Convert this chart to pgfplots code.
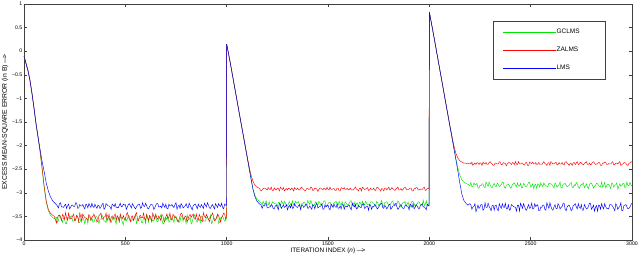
\documentclass[border=0pt]{standalone}
\usepackage{fontspec}
\setmainfont{Liberation Sans}
\usepackage{pgfplots}
\usepackage{pgfplotstable}
\pgfplotsset{compat=1.18}
\pgfplotstableread{
n g z l
0 -0.10 -0.10 -0.10
10 -0.26 -0.26 -0.26
20 -0.42 -0.41 -0.42
30 -0.64 -0.63 -0.63
40 -0.92 -0.91 -0.91
50 -1.24 -1.23 -1.22
60 -1.57 -1.56 -1.55
70 -1.85 -1.84 -1.83
80 -2.16 -2.14 -2.10
90 -2.52 -2.50 -2.35
100 -2.90 -2.88 -2.56
110 -3.20 -3.18 -2.80
120 -3.38 -3.35 -2.96
130 -3.47 -3.43 -3.08
140 -3.52 -3.47 -3.16
150 -3.55 -3.50 -3.21
160 -3.52 -3.64 -3.25
165 -3.62 -3.53 -3.28
170 -3.59 -3.48 -3.32
175 -3.47 -3.48 -3.23
180 -3.49 -3.52 -3.21
185 -3.57 -3.59 -3.30
190 -3.62 -3.46 -3.30
195 -3.53 -3.49 -3.31
200 -3.55 -3.56 -3.27
205 -3.66 -3.42 -3.24
210 -3.65 -3.53 -3.33
215 -3.52 -3.58 -3.27
220 -3.53 -3.43 -3.24
225 -3.56 -3.52 -3.34
230 -3.50 -3.55 -3.31
235 -3.49 -3.55 -3.26
240 -3.60 -3.49 -3.26
245 -3.60 -3.45 -3.29
250 -3.56 -3.59 -3.29
255 -3.59 -3.56 -3.21
260 -3.47 -3.48 -3.22
265 -3.50 -3.51 -3.33
270 -3.63 -3.61 -3.32
275 -3.63 -3.43 -3.25
280 -3.57 -3.51 -3.28
285 -3.46 -3.61 -3.28
290 -3.52 -3.45 -3.25
295 -3.57 -3.49 -3.30
300 -3.66 -3.53 -3.34
305 -3.55 -3.53 -3.24
310 -3.53 -3.56 -3.26
315 -3.65 -3.58 -3.32
320 -3.49 -3.46 -3.23
325 -3.52 -3.48 -3.27
330 -3.59 -3.58 -3.31
335 -3.53 -3.52 -3.22
340 -3.62 -3.49 -3.29
345 -3.62 -3.45 -3.31
350 -3.55 -3.52 -3.24
355 -3.49 -3.55 -3.29
360 -3.50 -3.62 -3.33
365 -3.59 -3.59 -3.26
370 -3.65 -3.48 -3.27
375 -3.56 -3.46 -3.33
380 -3.56 -3.43 -3.30
385 -3.47 -3.56 -3.25
390 -3.52 -3.55 -3.22
395 -3.60 -3.51 -3.35
400 -3.60 -3.51 -3.32
405 -3.63 -3.43 -3.23
410 -3.46 -3.59 -3.25
415 -3.50 -3.53 -3.28
420 -3.57 -3.46 -3.28
425 -3.55 -3.62 -3.30
430 -3.63 -3.53 -3.35
435 -3.57 -3.49 -3.24
440 -3.53 -3.56 -3.26
445 -3.52 -3.48 -3.29
450 -3.59 -3.45 -3.23
455 -3.66 -3.58 -3.31
460 -3.49 -3.49 -3.31
465 -3.53 -3.52 -3.32
470 -3.62 -3.61 -3.27
475 -3.49 -3.45 -3.22
480 -3.55 -3.52 -3.30
485 -3.62 -3.55 -3.29
490 -3.68 -3.48 -3.24
495 -3.56 -3.56 -3.26
500 -3.52 -3.58 -3.25
505 -3.59 -3.46 -3.35
510 -3.56 -3.42 -3.30
515 -3.47 -3.51 -3.25
520 -3.50 -3.55 -3.23
525 -3.60 -3.61 -3.28
530 -3.60 -3.51 -3.32
535 -3.55 -3.49 -3.23
540 -3.57 -3.59 -3.27
545 -3.50 -3.53 -3.31
550 -3.47 -3.46 -3.34
555 -3.65 -3.42 -3.30
560 -3.59 -3.56 -3.26
565 -3.57 -3.59 -3.24
570 -3.53 -3.49 -3.24
575 -3.52 -3.48 -3.33
580 -3.63 -3.53 -3.31
585 -3.63 -3.52 -3.21
590 -3.52 -3.43 -3.28
595 -3.53 -3.55 -3.29
600 -3.65 -3.58 -3.22
605 -3.46 -3.46 -3.27
610 -3.55 -3.52 -3.33
615 -3.62 -3.58 -3.34
620 -3.49 -3.48 -3.29
625 -3.56 -3.51 -3.25
630 -3.57 -3.61 -3.25
635 -3.59 -3.43 -3.26
640 -3.60 -3.49 -3.35
645 -3.49 -3.56 -3.32
650 -3.50 -3.45 -3.26
655 -3.60 -3.53 -3.23
660 -3.62 -3.56 -3.23
665 -3.55 -3.49 -3.30
670 -3.53 -3.53 -3.30
675 -3.47 -3.59 -3.28
680 -3.56 -3.46 -3.32
685 -3.65 -3.48 -3.22
690 -3.66 -3.59 -3.27
695 -3.53 -3.62 -3.31
700 -3.52 -3.51 -3.24
705 -3.57 -3.45 -3.33
710 -3.47 -3.55 -3.34
715 -3.62 -3.52 -3.24
720 -3.59 -3.43 -3.28
725 -3.52 -3.55 -3.27
730 -3.55 -3.58 -3.25
735 -3.56 -3.46 -3.29
740 -3.63 -3.48 -3.31
745 -3.49 -3.53 -3.25
750 -3.50 -3.52 -3.21
755 -3.59 -3.56 -3.35
760 -3.57 -3.62 -3.29
765 -3.63 -3.58 -3.26
770 -3.60 -3.49 -3.33
775 -3.50 -3.43 -3.23
780 -3.49 -3.45 -3.26
785 -3.60 -3.53 -3.32
790 -3.53 -3.56 -3.30
795 -3.55 -3.49 -3.28
800 -3.65 -3.51 -3.23
805 -3.47 -3.62 -3.30
810 -3.56 -3.55 -3.32
815 -3.57 -3.48 -3.22
820 -3.52 -3.46 -3.27
825 -3.66 -3.52 -3.31
830 -3.62 -3.48 -3.36
835 -3.53 -3.45 -3.27
840 -3.46 -3.55 -3.25
845 -3.52 -3.56 -3.24
850 -3.59 -3.45 -3.28
855 -3.62 -3.55 -3.34
860 -3.55 -3.58 -3.24
865 -3.56 -3.46 -3.29
870 -3.63 -3.51 -3.31
875 -3.49 -3.59 -3.25
880 -3.50 -3.61 -3.29
885 -3.59 -3.42 -3.33
890 -3.60 -3.49 -3.22
895 -3.60 -3.53 -3.26
900 -3.53 -3.46 -3.30
905 -3.50 -3.51 -3.21
910 -3.57 -3.56 -3.26
915 -3.55 -3.61 -3.32
920 -3.47 -3.52 -3.33
925 -3.65 -3.48 -3.28
930 -3.62 -3.43 -3.25
935 -3.53 -3.49 -3.30
940 -3.56 -3.59 -3.34
945 -3.57 -3.58 -3.23
950 -3.52 -3.53 -3.27
955 -3.46 -3.45 -3.31
960 -3.65 -3.48 -3.23
965 -3.63 -3.55 -3.27
970 -3.53 -3.62 -3.29
975 -3.52 -3.52 -3.22
980 -3.49 -3.49 -3.31
985 -3.56 -3.43 -3.34
990 -3.60 -3.45 -3.24
995 -3.59 -3.56 -3.26
999 -3.55 -3.50 -3.27
1000 0.15 0.15 0.15
1010 -0.07 -0.07 -0.07
1020 -0.30 -0.30 -0.30
1030 -0.54 -0.54 -0.54
1040 -0.78 -0.78 -0.78
1050 -1.02 -1.02 -1.02
1060 -1.26 -1.26 -1.26
1070 -1.50 -1.50 -1.50
1080 -1.74 -1.73 -1.74
1090 -1.98 -1.96 -1.98
1100 -2.22 -2.20 -2.22
1110 -2.46 -2.43 -2.46
1120 -2.70 -2.62 -2.70
1130 -2.92 -2.76 -2.93
1140 -3.06 -2.84 -3.09
1150 -3.14 -2.88 -3.18
1160 -3.18 -2.90 -3.23
1170 -3.22 -2.96 -3.26
1175 -3.25 -2.94 -3.33
1180 -3.18 -2.91 -3.27
1185 -3.23 -2.90 -3.28
1190 -3.24 -2.90 -3.24
1195 -3.17 -2.92 -3.23
1200 -3.26 -2.94 -3.32
1205 -3.26 -2.89 -3.32
1210 -3.19 -2.92 -3.30
1215 -3.28 -2.93 -3.30
1220 -3.27 -2.88 -3.25
1225 -3.19 -2.95 -3.27
1230 -3.21 -2.95 -3.34
1235 -3.22 -2.90 -3.34
1240 -3.23 -2.93 -3.28
1245 -3.24 -2.94 -3.26
1250 -3.30 -2.90 -3.31
1255 -3.20 -2.91 -3.36
1260 -3.20 -2.96 -3.23
1265 -3.30 -2.88 -3.24
1270 -3.17 -2.91 -3.33
1275 -3.21 -2.93 -3.29
1280 -3.25 -2.89 -3.26
1285 -3.18 -2.96 -3.31
1290 -3.22 -2.93 -3.29
1295 -3.27 -2.91 -3.25
1300 -3.28 -2.94 -3.36
1305 -3.23 -2.90 -3.30
1310 -3.19 -2.91 -3.27
1315 -3.25 -2.94 -3.32
1320 -3.24 -2.90 -3.24
1325 -3.17 -2.92 -3.33
1330 -3.26 -2.96 -3.32
1335 -3.26 -2.89 -3.23
1340 -3.18 -2.92 -3.28
1345 -3.22 -2.93 -3.30
1350 -3.21 -2.90 -3.31
1355 -3.19 -2.94 -3.27
1360 -3.29 -2.94 -3.25
1365 -3.29 -2.90 -3.36
1370 -3.23 -2.88 -3.26
1375 -3.24 -2.91 -3.26
1380 -3.20 -2.93 -3.31
1385 -3.20 -2.96 -3.29
1390 -3.27 -2.95 -3.24
1395 -3.28 -2.91 -3.24
1400 -3.16 -2.91 -3.33
1405 -3.21 -2.93 -3.32
1410 -3.25 -2.93 -3.28
1415 -3.16 -2.88 -3.31
1420 -3.22 -2.89 -3.35
1425 -3.27 -2.95 -3.25
1430 -3.28 -2.94 -3.27
1435 -3.23 -2.90 -3.34
1440 -3.19 -2.91 -3.25
1445 -3.25 -2.92 -3.22
1450 -3.26 -2.97 -3.32
1455 -3.18 -2.93 -3.30
1460 -3.21 -2.90 -3.29
1465 -3.26 -2.90 -3.28
1470 -3.24 -2.92 -3.23
1475 -3.22 -2.94 -3.35
1480 -3.17 -2.90 -3.34
1485 -3.17 -2.91 -3.26
1490 -3.27 -2.94 -3.30
1495 -3.29 -2.88 -3.27
1500 -3.23 -2.93 -3.26
1505 -3.21 -2.94 -3.33
1510 -3.20 -2.88 -3.36
1515 -3.24 -2.93 -3.24
1520 -3.29 -2.93 -3.27
1525 -3.27 -2.91 -3.31
1530 -3.21 -2.91 -3.24
1535 -3.20 -2.95 -3.29
1540 -3.18 -2.95 -3.31
1545 -3.23 -2.90 -3.23
1550 -3.26 -2.90 -3.33
1555 -3.18 -2.96 -3.32
1560 -3.24 -2.96 -3.28
1565 -3.25 -2.89 -3.34
1570 -3.19 -2.91 -3.25
1575 -3.28 -2.92 -3.25
1580 -3.28 -2.89 -3.35
1585 -3.19 -2.93 -3.28
1590 -3.22 -2.93 -3.29
1595 -3.26 -2.90 -3.30
1600 -3.25 -2.94 -3.26
1605 -3.22 -2.93 -3.26
1610 -3.17 -2.90 -3.32
1615 -3.17 -2.94 -3.36
1620 -3.27 -2.94 -3.22
1625 -3.24 -2.94 -3.27
1630 -3.20 -2.91 -3.30
1635 -3.30 -2.88 -3.24
1640 -3.23 -2.92 -3.34
1645 -3.21 -2.93 -3.33
1650 -3.30 -2.96 -3.27
1655 -3.20 -2.91 -3.29
1660 -3.21 -2.90 -3.31
1665 -3.27 -2.96 -3.31
1670 -3.18 -2.88 -3.24
1675 -3.23 -2.90 -3.23
1680 -3.26 -2.93 -3.33
1685 -3.18 -2.92 -3.32
1690 -3.22 -2.91 -3.28
1695 -3.25 -2.89 -3.28
1700 -3.25 -2.95 -3.37
1705 -3.26 -2.94 -3.25
1710 -3.19 -2.90 -3.26
1715 -3.19 -2.93 -3.35
1720 -3.20 -2.93 -3.29
1725 -3.22 -2.90 -3.30
1730 -3.25 -2.94 -3.25
1735 -3.29 -2.95 -3.26
1740 -3.18 -2.89 -3.32
1745 -3.21 -2.88 -3.34
1750 -3.27 -2.91 -3.30
1755 -3.24 -2.93 -3.27
1760 -3.22 -2.96 -3.23
1765 -3.16 -2.91 -3.22
1770 -3.29 -2.92 -3.31
1775 -3.28 -2.96 -3.33
1780 -3.21 -2.90 -3.27
1785 -3.20 -2.90 -3.29
1790 -3.19 -2.94 -3.34
1795 -3.23 -2.91 -3.31
1800 -3.26 -2.88 -3.26
1805 -3.25 -2.94 -3.24
1810 -3.23 -2.93 -3.35
1815 -3.19 -2.89 -3.32
1820 -3.17 -2.91 -3.28
1825 -3.27 -2.93 -3.28
1830 -3.28 -2.95 -3.24
1835 -3.22 -2.92 -3.23
1840 -3.24 -2.90 -3.30
1845 -3.17 -2.88 -3.35
1850 -3.20 -2.94 -3.32
1855 -3.26 -2.94 -3.27
1860 -3.30 -2.91 -3.25
1865 -3.24 -2.95 -3.30
1870 -3.21 -2.93 -3.33
1875 -3.21 -2.90 -3.33
1880 -3.18 -2.88 -3.27
1885 -3.28 -2.91 -3.26
1890 -3.25 -2.94 -3.29
1895 -3.20 -2.93 -3.29
1900 -3.27 -2.92 -3.36
1905 -3.30 -2.90 -3.24
1910 -3.22 -2.90 -3.26
1915 -3.18 -2.96 -3.31
1920 -3.19 -2.96 -3.23
1925 -3.23 -2.91 -3.34
1930 -3.29 -2.91 -3.31
1935 -3.25 -2.89 -3.25
1940 -3.23 -2.89 -3.28
1945 -3.19 -2.94 -3.32
1950 -3.20 -2.94 -3.34
1955 -3.24 -2.92 -3.28
1960 -3.26 -2.93 -3.25
1965 -3.26 -2.93 -3.23
1970 -3.16 -2.90 -3.30
1975 -3.27 -2.88 -3.30
1980 -3.24 -2.95 -3.32
1985 -3.17 -2.94 -3.36
1990 -3.28 -2.91 -3.24
1995 -3.24 -2.91 -3.27
1999 -3.22 -2.92 -3.28
2000 0.83 0.83 0.83
2010 0.60 0.60 0.60
2020 0.37 0.37 0.37
2030 0.13 0.13 0.13
2040 -0.11 -0.11 -0.11
2050 -0.35 -0.35 -0.35
2060 -0.59 -0.59 -0.59
2070 -0.83 -0.83 -0.83
2080 -1.07 -1.07 -1.07
2090 -1.31 -1.31 -1.31
2100 -1.55 -1.54 -1.55
2110 -1.79 -1.76 -1.79
2120 -2.03 -1.98 -2.03
2130 -2.26 -2.15 -2.27
2140 -2.46 -2.26 -2.52
2150 -2.62 -2.32 -2.78
2160 -2.72 -2.35 -3.02
2170 -2.77 -2.37 -3.16
2180 -2.80 -2.37 -3.22
2190 -2.82 -2.39 -3.26
2200 -2.85 -2.37 -3.23
2205 -2.78 -2.39 -3.26
2210 -2.87 -2.35 -3.35
2215 -2.87 -2.42 -3.30
2220 -2.79 -2.39 -3.29
2225 -2.83 -2.37 -3.23
2230 -2.82 -2.40 -3.40
2235 -2.80 -2.36 -3.34
2240 -2.90 -2.37 -3.26
2245 -2.90 -2.40 -3.33
2250 -2.84 -2.36 -3.30
2255 -2.85 -2.38 -3.25
2260 -2.81 -2.42 -3.25
2265 -2.81 -2.35 -3.37
2270 -2.88 -2.38 -3.34
2275 -2.89 -2.39 -3.21
2280 -2.77 -2.36 -3.31
2285 -2.82 -2.40 -3.31
2290 -2.86 -2.40 -3.22
2295 -2.77 -2.36 -3.29
2300 -2.83 -2.34 -3.33
2305 -2.88 -2.37 -3.38
2310 -2.89 -2.39 -3.27
2315 -2.84 -2.42 -3.26
2320 -2.80 -2.41 -3.37
2325 -2.86 -2.37 -3.27
2330 -2.87 -2.37 -3.26
2335 -2.79 -2.39 -3.35
2340 -2.82 -2.39 -3.38
2345 -2.87 -2.34 -3.23
2350 -2.85 -2.35 -3.29
2355 -2.83 -2.41 -3.33
2360 -2.78 -2.40 -3.23
2365 -2.78 -2.36 -3.30
2370 -2.88 -2.37 -3.31
2375 -2.90 -2.38 -3.22
2380 -2.84 -2.43 -3.34
2385 -2.82 -2.39 -3.34
2390 -2.81 -2.36 -3.25
2395 -2.85 -2.36 -3.37
2400 -2.90 -2.38 -3.35
2405 -2.88 -2.40 -3.25
2410 -2.82 -2.36 -3.27
2415 -2.81 -2.37 -3.29
2420 -2.79 -2.40 -3.30
2425 -2.84 -2.34 -3.31
2430 -2.87 -2.39 -3.39
2435 -2.79 -2.40 -3.26
2440 -2.85 -2.34 -3.26
2445 -2.86 -2.39 -3.39
2450 -2.80 -2.39 -3.22
2455 -2.89 -2.37 -3.27
2460 -2.89 -2.37 -3.33
2465 -2.80 -2.41 -3.23
2470 -2.83 -2.41 -3.29
2475 -2.87 -2.36 -3.35
2480 -2.86 -2.36 -3.37
2485 -2.83 -2.42 -3.30
2490 -2.78 -2.42 -3.25
2495 -2.78 -2.35 -3.33
2500 -2.88 -2.37 -3.31
2505 -2.85 -2.38 -3.22
2510 -2.81 -2.35 -3.34
2515 -2.91 -2.39 -3.34
2520 -2.84 -2.39 -3.23
2525 -2.82 -2.36 -3.29
2530 -2.91 -2.40 -3.27
2535 -2.81 -2.39 -3.25
2540 -2.82 -2.36 -3.38
2545 -2.88 -2.40 -3.38
2550 -2.79 -2.40 -3.30
2555 -2.84 -2.40 -3.31
2560 -2.87 -2.37 -3.26
2565 -2.79 -2.34 -3.26
2570 -2.83 -2.38 -3.35
2575 -2.86 -2.39 -3.37
2580 -2.86 -2.42 -3.21
2585 -2.87 -2.37 -3.27
2590 -2.80 -2.36 -3.33
2595 -2.80 -2.42 -3.21
2600 -2.81 -2.34 -3.29
2605 -2.83 -2.36 -3.35
2610 -2.86 -2.39 -3.37
2615 -2.90 -2.38 -3.30
2620 -2.79 -2.37 -3.25
2625 -2.82 -2.35 -3.33
2630 -2.88 -2.41 -3.34
2635 -2.85 -2.40 -3.23
2640 -2.83 -2.36 -3.27
2645 -2.77 -2.39 -3.34
2650 -2.90 -2.39 -3.31
2655 -2.89 -2.36 -3.29
2660 -2.82 -2.40 -3.22
2665 -2.81 -2.41 -3.22
2670 -2.80 -2.35 -3.35
2675 -2.84 -2.34 -3.38
2680 -2.87 -2.37 -3.30
2685 -2.86 -2.39 -3.27
2690 -2.84 -2.42 -3.26
2695 -2.80 -2.37 -3.31
2700 -2.78 -2.38 -3.38
2705 -2.88 -2.42 -3.35
2710 -2.89 -2.36 -3.27
2715 -2.83 -2.36 -3.26
2720 -2.85 -2.40 -3.23
2725 -2.78 -2.37 -3.30
2730 -2.81 -2.34 -3.34
2735 -2.87 -2.40 -3.23
2740 -2.91 -2.39 -3.31
2745 -2.85 -2.35 -3.33
2750 -2.82 -2.37 -3.25
2755 -2.82 -2.39 -3.37
2760 -2.79 -2.41 -3.37
2765 -2.89 -2.38 -3.25
2770 -2.86 -2.36 -3.29
2775 -2.81 -2.34 -3.34
2780 -2.88 -2.40 -3.33
2785 -2.91 -2.40 -3.29
2790 -2.83 -2.37 -3.22
2795 -2.79 -2.41 -3.22
2800 -2.80 -2.39 -3.35
2805 -2.84 -2.36 -3.31
2810 -2.90 -2.34 -3.26
2815 -2.86 -2.37 -3.39
2820 -2.84 -2.40 -3.30
2825 -2.80 -2.39 -3.27
2830 -2.81 -2.38 -3.39
2835 -2.85 -2.36 -3.26
2840 -2.87 -2.36 -3.27
2845 -2.87 -2.42 -3.35
2850 -2.77 -2.42 -3.23
2855 -2.88 -2.37 -3.30
2860 -2.85 -2.37 -3.34
2865 -2.78 -2.35 -3.23
2870 -2.89 -2.35 -3.29
2875 -2.85 -2.40 -3.33
2880 -2.82 -2.40 -3.33
2885 -2.82 -2.38 -3.34
2890 -2.86 -2.39 -3.25
2895 -2.91 -2.39 -3.25
2900 -2.79 -2.36 -3.26
2905 -2.81 -2.34 -3.29
2910 -2.88 -2.41 -3.33
2915 -2.84 -2.40 -3.38
2920 -2.83 -2.37 -3.23
2925 -2.79 -2.37 -3.27
2930 -2.92 -2.39 -3.35
2935 -2.87 -2.36 -3.31
2940 -2.81 -2.34 -3.29
2945 -2.86 -2.42 -3.21
2950 -2.84 -2.40 -3.38
2955 -2.80 -2.39 -3.37
2960 -2.80 -2.36 -3.27
2965 -2.89 -2.36 -3.26
2970 -2.87 -2.38 -3.25
2975 -2.77 -2.41 -3.30
2980 -2.85 -2.42 -3.34
2985 -2.85 -2.37 -3.33
2990 -2.78 -2.37 -3.30
2995 -2.83 -2.34 -3.25
3000 -2.86 -2.35 -3.22
}\mse
\definecolor{mgreen}{RGB}{0,230,0}
\definecolor{mred}{RGB}{255,0,0}
\definecolor{mblue}{RGB}{0,0,255}
\begin{document}
\begin{tikzpicture}
\begin{axis}[
  scale only axis,
  width=608pt, height=236pt,
  xmin=0, xmax=3000, ymin=-4, ymax=1,
  xtick={0,500,1000,1500,2000,2500,3000},
  xticklabels={0,500,1000,1500,2000,2500,3000},
  ytick={-4,-3.5,-3,-2.5,-2,-1.5,-1,-0.5,0,0.5,1},
  yticklabels={−4,−3.5,−3,−2.5,−2,−1.5,−1,−0.5,0,0.5,1},
  tick align=inside,
  major tick length=3pt,
  axis line style={black!75, line width=0.5pt},
  every tick/.style={black!75, line width=0.5pt},
  tick label style={font=\fontsize{5.2}{6}\selectfont, inner sep=1.5pt},
  xlabel={ITERATION INDEX (\textit{n}) ---\kern-0.25em>},
  ylabel={EXCESS MEAN-SQUARE ERROR (in B) ---\kern-0.25em>},
  xlabel style={font=\fontsize{6.4}{7}\selectfont, at={(axis description cs:0.5,-0.047)}, anchor=center},
  ylabel style={font=\fontsize{6.8}{7}\selectfont, at={(axis description cs:-0.031,0.5)}, anchor=center},
  legend style={at={(axis description cs:0.957,0.928)}, anchor=north east,
    draw=black!75, line width=0.5pt, inner xsep=10pt, inner ysep=2pt,
    font=\fontsize{6.5}{7}\selectfont, row sep=0pt,
    nodes={inner sep=0pt, minimum height=18pt}},
  legend cell align=left,
  legend image code/.code={\draw[#1, line width=0.5pt] (0pt,0pt) -- (53pt,0pt);},
  every axis plot/.append style={line width=0.45pt},
]
\addplot[mgreen, no markers] table[x=n, y=g] {\mse};
\addlegendentry{\makebox[39pt][l]{GCLMS}}
\addplot[mred, no markers] table[x=n, y=z] {\mse};
\addlegendentry{\makebox[39pt][l]{ZALMS}}
\addplot[mblue, no markers] table[x=n, y=l] {\mse};
\addlegendentry{\makebox[39pt][l]{LMS}}
\end{axis}
\pgfresetboundingbox
\path[use as bounding box] (-24pt,-18pt) rectangle (616pt,240pt);
\end{tikzpicture}
\end{document}
